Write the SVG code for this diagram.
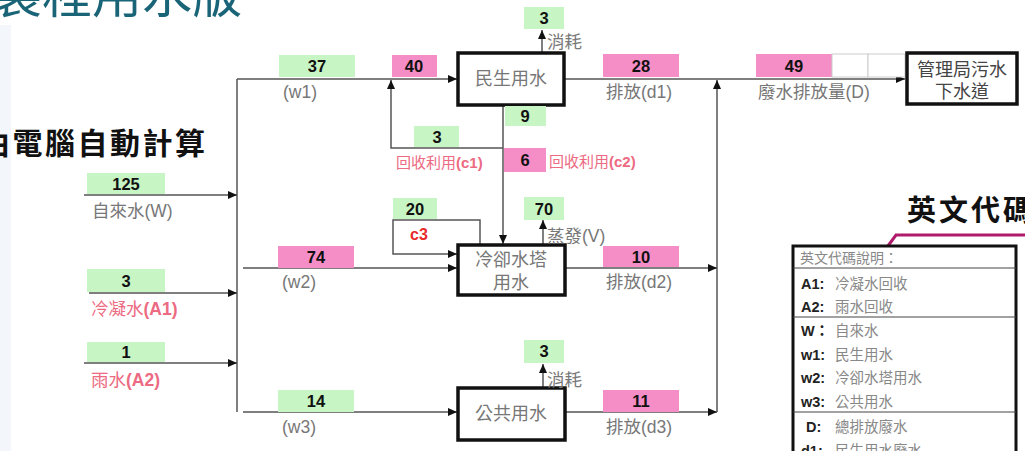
<svg xmlns="http://www.w3.org/2000/svg" width="1025" height="451" viewBox="0 0 1025 451">
<defs>
<marker id="ar" markerUnits="userSpaceOnUse" markerWidth="10" markerHeight="10" refX="9" refY="4" orient="auto">
<path d="M0,0 L9,4 L0,8 z" fill="#111"/>
</marker>
<style>
.ln{stroke:#555;stroke-width:1.5;fill:none}
.arr{marker-end:url(#ar)}
.g{fill:#c8f5c4}
.p{fill:#f58ec6}
.num{font-family:"Liberation Sans","Noto Sans CJK TC",sans-serif;font-weight:bold;font-size:16.5px;fill:#111;text-anchor:middle}
.lbl{font-family:"Liberation Sans","Noto Sans CJK TC",sans-serif;font-size:17.5px;fill:#777}
.red{font-family:"Liberation Sans","Noto Sans CJK TC",sans-serif;font-size:15px;fill:#ec6a82}
.redL{font-family:"Liberation Sans","Noto Sans CJK TC",sans-serif;font-size:17.5px;fill:#ec6a82}
.box{fill:#fff;stroke:#111;stroke-width:3.5}
.bt{font-family:"Liberation Sans","Noto Sans CJK TC",sans-serif;font-size:18px;fill:#777;text-anchor:middle}
.lk{font-family:"Liberation Sans","Noto Sans CJK TC",sans-serif;font-weight:bold;font-size:14.5px;fill:#222}
.ld{font-family:"Liberation Sans","Noto Sans CJK TC",sans-serif;font-size:14.5px;fill:#888}
</style>
</defs>
<rect width="1025" height="451" fill="#fff"/>
<rect x="0" y="25" width="11" height="426" fill="#f3f6fb"/>
<text x="-8" y="13" font-family="'Noto Sans CJK TC',sans-serif" font-size="50" fill="#1a6478">製程用水版</text>
<text x="-20" y="154" font-family="'Noto Sans CJK TC',sans-serif" font-size="30" font-weight="bold" letter-spacing="2.5" fill="#111">由電腦自動計算</text>
<text x="907" y="221" font-family="'Noto Sans CJK TC',sans-serif" font-size="29" font-weight="bold" letter-spacing="3" fill="#111">英文代碼</text>

<g id="connectors">
<path class="ln" d="M237,79 V412"/>
<path class="ln arr" d="M84,195 H237"/>
<path class="ln arr" d="M89,293 H237"/>
<path class="ln arr" d="M84,363 H237"/>
<path class="ln arr" d="M237,79 H457"/>
<path class="ln arr" d="M503,148 H391 V80"/>
<path class="ln arr" d="M503,105 V244"/>
<path class="ln arr" d="M542,53 V30"/>
<path class="ln arr" d="M564,79 H905"/>
<path class="ln arr" d="M717,412 V80"/>
<path class="ln arr" d="M243,268 H457"/>
<path class="ln arr" d="M480,245 V220 H393 V254 H457"/>
<path class="ln arr" d="M543,245 V220"/>
<path class="ln arr" d="M565,268 H717"/>
<path class="ln arr" d="M243,412 H457"/>
<path class="ln arr" d="M543,388 V364"/>
<path class="ln arr" d="M565,412 H717"/>
<path d="M882,254 L896,235 H1025" fill="none" stroke="#b01a6a" stroke-width="3"/>
<circle cx="882" cy="254" r="5" fill="#b01a6a"/>
</g>

<g id="in-W"><rect class="g" x="87" y="173" width="78" height="21"/><text class="num" x="126" y="190">125</text><text class="lbl" x="92" y="217">自來水(W)</text></g>
<g id="in-A1"><rect class="g" x="87" y="269" width="78" height="23"/><text class="num" x="126" y="287">3</text><text class="redL" x="91" y="315">冷凝水<tspan font-weight="bold">(A1)</tspan></text></g>
<g id="in-A2"><rect class="g" x="87" y="342" width="78" height="20"/><text class="num" x="126" y="358">1</text><text class="redL" x="91" y="386">雨水<tspan font-weight="bold">(A2)</tspan></text></g>

<g id="w1"><rect class="g" x="279" y="55" width="76" height="22"/><text class="num" x="317" y="72">37</text><text class="lbl" x="283" y="98">(w1)</text></g>
<g id="v40"><rect class="p" x="392" y="55" width="45" height="22"/><text class="num" x="414" y="72">40</text></g>
<g id="c1"><rect class="g" x="414" y="126" width="45" height="21"/><text class="num" x="437" y="143">3</text><text class="red" x="396" y="168">回收利用<tspan font-weight="bold">(c1)</tspan></text></g>
<g id="n-civil"><rect class="box" x="458" y="53" width="106" height="52"/><text class="bt" x="511" y="85">民生用水</text></g>
<g id="civ-loss"><rect class="g" x="524" y="7" width="40" height="22"/><text class="num" x="544" y="24">3</text><text class="lbl" x="547" y="48">消耗</text></g>
<g id="v9"><rect class="g" x="505" y="106" width="41" height="20"/><text class="num" x="525" y="122">9</text></g>
<g id="c2"><rect class="p" x="504" y="148" width="42" height="24"/><text class="num" x="525" y="166">6</text><text class="red" x="549" y="167">回收利用<tspan font-weight="bold">(c2)</tspan></text></g>
<g id="d1"><rect class="p" x="603" y="54" width="76" height="23"/><text class="num" x="641" y="72">28</text><text class="lbl" x="606" y="98">排放(d1)</text></g>
<g id="D"><rect class="p" x="756" y="54" width="76" height="23"/><text class="num" x="794" y="72">49</text><rect x="832" y="54" width="36" height="23" fill="#fff" stroke="#ccc"/><rect x="868" y="54" width="37" height="23" fill="#fff" stroke="#ccc"/><text class="lbl" x="758" y="98">廢水排放量(D)</text></g>
<g id="n-sewer"><rect class="box" x="907" y="53" width="110" height="51"/><text class="bt" x="962" y="76" style="fill:#444">管理局污水</text><text class="bt" x="962" y="98" style="fill:#444">下水道</text></g>

<g id="w2"><rect class="p" x="278" y="246" width="76" height="22"/><text class="num" x="316" y="263">74</text><text class="lbl" x="282" y="288">(w2)</text></g>
<g id="c3"><rect class="g" x="393" y="198" width="44" height="21"/><text class="num" x="415" y="215">20</text><text x="419" y="240" font-family="'Liberation Sans',sans-serif" font-weight="bold" font-size="16" fill="#e82a2a" text-anchor="middle">c3</text></g>
<g id="n-cool"><rect class="box" x="458" y="245" width="107" height="50"/><text class="bt" x="511" y="266">冷卻水塔</text><text class="bt" x="511" y="289">用水</text></g>
<g id="evap"><rect class="g" x="524" y="197" width="40" height="23"/><text class="num" x="544" y="215">70</text><text class="lbl" x="547" y="242">蒸發(V)</text></g>
<g id="d2"><rect class="p" x="603" y="246" width="76" height="21"/><text class="num" x="641" y="263">10</text><text class="lbl" x="606" y="288">排放(d2)</text></g>

<g id="w3"><rect class="g" x="278" y="390" width="76" height="22"/><text class="num" x="316" y="407">14</text><text class="lbl" x="282" y="433">(w3)</text></g>
<g id="n-public"><rect class="box" x="458" y="388" width="107" height="52"/><text class="bt" x="511" y="420">公共用水</text></g>
<g id="pub-loss"><rect class="g" x="524" y="340" width="40" height="23"/><text class="num" x="544" y="357">3</text><text class="lbl" x="547" y="386">消耗</text></g>
<g id="d3"><rect class="p" x="603" y="390" width="76" height="22"/><text class="num" x="641" y="407">11</text><text class="lbl" x="606" y="433">排放(d3)</text></g>

<g id="legend">
<rect x="793" y="246" width="223" height="220" fill="#fff" stroke="#111" stroke-width="3"/>
<path d="M793,268 H1016 M793,317 H1016 M793,412 H1016" stroke="#444" stroke-width="1"/>
<text class="ld" x="800" y="263" style="font-size:14px">英文代碼說明：</text>
<text class="lk" x="801" y="289">A1:</text><text class="ld" x="835" y="289">冷凝水回收</text>
<text class="lk" x="801" y="312">A2:</text><text class="ld" x="835" y="312">雨水回收</text>
<text class="lk" x="801" y="336">W：</text><text class="ld" x="835" y="336">自來水</text>
<text class="lk" x="801" y="360">w1:</text><text class="ld" x="835" y="360">民生用水</text>
<text class="lk" x="801" y="383">w2:</text><text class="ld" x="835" y="383">冷卻水塔用水</text>
<text class="lk" x="801" y="407">w3:</text><text class="ld" x="835" y="407">公共用水</text>
<text class="lk" x="806" y="432">D:</text><text class="ld" x="835" y="432">總排放廢水</text>
<text class="lk" x="801" y="456">d1:</text><text class="ld" x="835" y="456">民生用水廢水</text>
</g>
</svg>
